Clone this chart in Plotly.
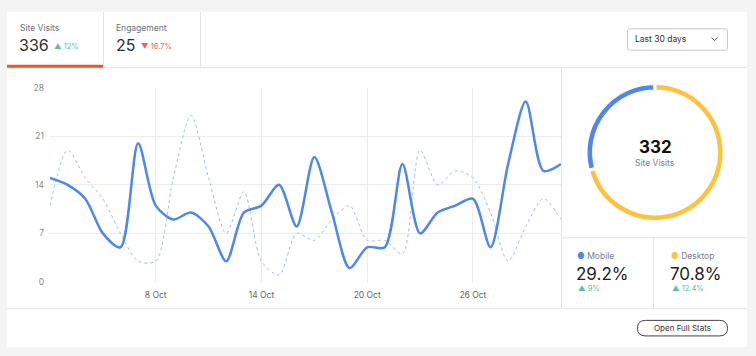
import plotly.graph_objects as go

W, H = 756, 356
FONT = "Inter"

# ---------------- data ----------------
dates = ["2024-10-%02d" % d for d in range(2, 32)]
visits = [15, 14, 12, 7, 5, 20, 11, 9, 10, 8, 3, 10, 11, 14, 8,
          18, 10, 2, 5, 5, 17, 7, 10, 11, 12, 5, 17, 26, 16, 17]
previous = [11, 19, 15, 12, 7, 3, 3, 15, 24, 15, 7, 13, 3, 1, 7,
            6, 9, 11, 6, 6, 4, 19, 14, 16, 15, 10, 3, 8, 12, 9]
x_tick_vals = ["2024-10-08", "2024-10-14", "2024-10-20", "2024-10-26"]
x_tick_text = ["8 Oct", "14 Oct", "20 Oct", "26 Oct"]
y_ticks = [0, 7, 14, 21, 28]
devices = ["Mobile", "Desktop"]
device_share = [29.2, 70.8]
device_change = ["9%", "12.4%"]
device_colors = ["#4f87ea", "#ffc23e"]
kpi_names = ["Site Visits", "Engagement"]
kpi_values = ["336", "25"]
kpi_changes = ["▲ 12%", "▼ 16.7%"]
total_visits = "332"

BLUE = "#4f87ea"
LIGHT = "#9dbcf1"
GREEN = "#5cc49b"
RED = "#f25f5f"
ORANGE = "#f2552e"
GRID = "#ececec"
LINE = "#e4e4e4"
PAGE = "#f4f4f4"


def px(x):
    return x / W


def py(y):
    return 1 - y / H


shapes = []


def rect(x0, y0, x1, y1, fill=None, layer="below"):
    shapes.append(dict(type="rect", xref="paper", yref="paper",
                       x0=px(x0), x1=px(x1), y0=py(y0), y1=py(y1),
                       fillcolor=fill, line=dict(width=0), layer=layer))


def hline(x0, x1, y, color=LINE, w=1):
    shapes.append(dict(type="line", xref="paper", yref="paper",
                       x0=px(x0), x1=px(x1), y0=py(y), y1=py(y),
                       line=dict(color=color, width=w), layer="below"))


def vline(x, y0, y1, color=LINE, w=1):
    shapes.append(dict(type="line", xref="paper", yref="paper",
                       x0=px(x), x1=px(x), y0=py(y0), y1=py(y1),
                       line=dict(color=color, width=w), layer="below"))


def rrect(x0, y0, x1, y1, r, line, lw=1):
    pts = [
        ("M", x0 + r, y0), ("L", x1 - r, y0), ("Q", x1, y0, x1, y0 + r),
        ("L", x1, y1 - r), ("Q", x1, y1, x1 - r, y1), ("L", x0 + r, y1),
        ("Q", x0, y1, x0, y1 - r), ("L", x0, y0 + r), ("Q", x0, y0, x0 + r, y0),
    ]
    d = ""
    for p in pts:
        if p[0] == "Q":
            d += "Q%.5f,%.5f %.5f,%.5f " % (px(p[1]), py(p[2]), px(p[3]), py(p[4]))
        else:
            d += "%s%.5f,%.5f " % (p[0], px(p[1]), py(p[2]))
    d += "Z"
    shapes.append(dict(type="path", xref="paper", yref="paper", path=d,
                       fillcolor="rgba(0,0,0,0)", line=dict(color=line, width=lw),
                       layer="above"))


# card
rect(7, 7, 747, 352, fill="white")
# header
hline(7, 747, 64.5)
vline(103.5, 7, 64)
vline(200.5, 7, 64)
rect(7, 61.5, 103, 64.5, fill=ORANGE, layer="above")
# right panel
vline(561.5, 64, 312)
hline(561, 747, 239.5)
vline(653.5, 239, 312)
hline(7, 747, 312.5)
# dropdown
rrect(627.5, 24.5, 727.5, 46.5, 2, "#c9c9c9", 1)
shapes.append(dict(type="path", xref="paper", yref="paper",
                   path="M%.5f,%.5f L%.5f,%.5f L%.5f,%.5f" % (px(711.5), py(33.5), px(714.5), py(36.5), px(717.5), py(33.5)),
                   line=dict(color="#555", width=1)))
# button
rrect(637.5, 324.5, 727.5, 340.5, 8, "#444", 1)

annotations = []


def text(x, y, s, size, color, anchor="left", bold=False):
    annotations.append(dict(xref="paper", yref="paper", x=px(x), y=py(y), text=("<b>%s</b>" % s) if bold else s,
                            showarrow=False, xanchor=anchor, yanchor="middle",
                            font=dict(family=FONT, size=size, color=color)))


# KPI tabs
text(18, 24, kpi_names[0], 8.5, "#6b6f78")
text(17, 41, kpi_values[0], 16, "#2b2e33")
text(52, 43, kpi_changes[0], 7.5, GREEN)
text(114, 24, kpi_names[1], 8.5, "#6b6f78")
text(114, 41, kpi_values[1], 16, "#2b2e33")
text(139, 43, kpi_changes[1], 7.5, RED)
text(633, 35, "Last 30 days", 8.5, "#333")

# donut centre
cx, cy = 655, 151.7
text(cx, 146.5, total_visits, 17, "#111", anchor="center", bold=True)
text(cx, 162.5, "Site Visits", 8.5, "#7a7e86", anchor="center")

# device stats
for i, xx in enumerate([575, 669]):
    text(xx, 258, "<span style='color:%s'>●</span> %s" % (device_colors[i], devices[i]), 8.5, "#7a7e86")
    text(xx - 1, 277, "%.1f%%" % device_share[i], 17, "#1f2226")
    text(xx + 1, 292, "▲ " + device_change[i], 7.5, GREEN)

text(682, 332.5, "Open Full Stats", 8, "#333", anchor="center")

fig = go.Figure()
fig.add_trace(go.Scatter(x=dates, y=previous, mode="lines",
                         line=dict(color=LIGHT, width=1, dash="dot", shape="spline", smoothing=0.8),
                         hoverinfo="skip", showlegend=False))
fig.add_trace(go.Scatter(x=dates, y=visits, mode="lines",
                         line=dict(color=BLUE, width=2.5, shape="spline", smoothing=0.8),
                         showlegend=False))

R = 71
fig.add_trace(go.Pie(labels=devices, values=device_share, sort=False, direction="clockwise",
                     rotation=-device_share[0] * 3.6, hole=0.89, textinfo="none", showlegend=False,
                     marker=dict(colors=device_colors, line=dict(color="white", width=3)),
                     domain=dict(x=[px(cx - R), px(cx + R)], y=[py(cy + R), py(cy - R)])))

fig.update_layout(
    width=W, height=H, margin=dict(l=0, r=0, t=0, b=0),
    paper_bgcolor=PAGE, plot_bgcolor="rgba(0,0,0,0)",
    shapes=shapes, annotations=annotations,
    font=dict(family=FONT),
    xaxis=dict(domain=[px(50), px(561)], type="date", range=[dates[0], dates[-1]],
               tickvals=x_tick_vals, ticktext=x_tick_text, showgrid=True, gridcolor=GRID,
               gridwidth=1, zeroline=False, showline=False, ticks="",
               ticklabelstandoff=7, tickfont=dict(family=FONT, size=8.5, color="#666")),
    yaxis=dict(domain=[py(285), py(85)], range=[0, 28], tickvals=y_ticks, showgrid=True,
               gridcolor=GRID, zeroline=False, showline=False, ticks="",
               ticklabelstandoff=5, tickfont=dict(family=FONT, size=8.5, color="#8a8a8a")),
)

# pin the figure to the top-left corner of the window (no default body margin)
post = ("var gd=document.getElementById('{plot_id}');"
        "gd.style.position='fixed';gd.style.left='0px';gd.style.top='0px';"
        "document.body.style.margin='0';document.body.style.background='%s';" % PAGE)

fig.write_html("out.html", post_script=post, config={"staticPlot": True})
